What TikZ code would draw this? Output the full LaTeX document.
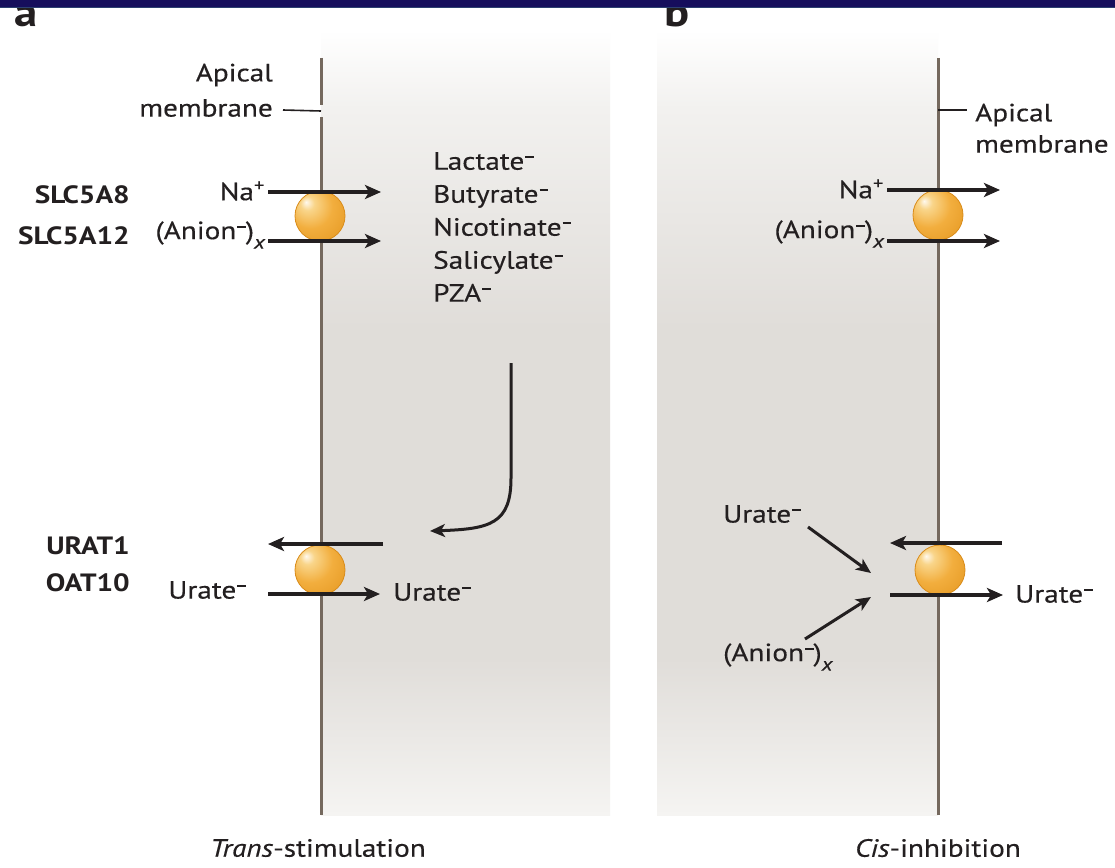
\documentclass[tikz,border=0pt]{standalone}
\usepackage{fontspec}
\setmainfont{PT Sans}[FakeStretch=1.17, UprightFeatures={FakeBold=0.35}, ItalicFeatures={FakeBold=0.35}]
\usetikzlibrary{arrows.meta}
\definecolor{ink}{HTML}{231F20}
\definecolor{memb}{HTML}{75695E}
\definecolor{navy}{HTML}{160E5C}
\definecolor{navyl}{HTML}{2C4070}
\definecolor{gtop}{HTML}{FFFFFF}
\definecolor{gup}{HTML}{F2F1EF}
\definecolor{gmid}{HTML}{E0DDD9}
\definecolor{gbot}{HTML}{F5F4F2}
\definecolor{orbw}{HTML}{FFF9EE}
\definecolor{orbl}{HTML}{F9D58A}
\definecolor{orbm}{HTML}{F2AE3E}
\definecolor{orbd}{HTML}{E3951E}
\definecolor{orbe}{HTML}{D98C1A}
\pgfdeclareradialshading{orb}{\pgfpoint{-14bp}{14bp}}{color(0bp)=(orbw); color(7bp)=(orbl); color(22bp)=(orbm); color(45bp)=(orbd); color(70bp)=(orbd)}
\pgfdeclareverticalshading{cellgrad}{100bp}{color(0bp)=(gbot); color(25bp)=(gbot); color(35bp)=(gmid); color(56bp)=(gmid); color(70bp)=(gup); color(75bp)=(gtop); color(100bp)=(gtop)}
\newcommand\smin{\kern0.04em\raisebox{0.46em}{\rule{0.34em}{0.08em}}}
\newcommand\ssub[1]{\raisebox{-0.38em}{\fontsize{19}{19}\selectfont\itshape #1}}
\tikzset{
  txt/.style={font=\fontsize{25}{33}\selectfont, text=ink, inner sep=0pt},
  btxt/.style={txt, font=\fontsize{25}{33}\selectfont\bfseries},
  membline/.style={draw=memb, line width=3pt},
  ticklab/.style={draw=ink, line width=1.6pt},
  arr/.style={draw=ink, line width=4pt, -{Stealth[length=16pt,width=14pt,inset=4pt]}},
  carr/.style={draw=ink, line width=3pt, -{Stealth[length=15pt,width=13pt,inset=4pt]}},
  darr/.style={draw=ink, line width=3pt, -{Stealth[length=15pt,width=13pt,inset=4pt]}},
  orbnode/.style={circle, minimum size=50pt, inner sep=0pt, shading=orb, draw=orbe, line width=0.8pt},
  panel/.style={shading=cellgrad, draw=none},
  letter/.style={font=\fontsize{40}{40}\selectfont\bfseries, text=ink, inner sep=0pt, anchor=base west}
}
\begin{document}
\begin{tikzpicture}[x=1pt,y=-1pt]
\useasboundingbox (0,0) rectangle (1115,867);
\fill[white] (0,0) rectangle (1115,867);
% grey panels
\shade[panel] (321,30) rectangle (610,815);
\shade[panel] (657,30) rectangle (938,815);
% panel letters (clipped by band)
\begin{scope}
\clip (0,8) rectangle (1115,60);
\node[letter] (la) at (14,27) {a};
\node[letter] (lb) at (664,27) {b};
\end{scope}
\fill[navy] (0,0) rectangle (1115,7);
\fill[navyl] (0,7) rectangle (1115,8.5);

% ---------------- panel a ----------------
\coordinate (mAt) at (321,58);
\coordinate (mAg1) at (321,105);
\coordinate (mAg2) at (321,117);
\coordinate (mAb) at (321,815);
\draw[membline] (mAt) -- (mAg1);
\draw[membline] (mAg2) -- (mAb);
\node[txt, anchor=east] (apA1) at (273,75) {Apical};
\node[txt, anchor=east] (apA2) at (273,108) {membrane};
\coordinate (tkA) at (321,111);
\draw[ticklab] (apA2.east) ++(10,2) coordinate (tkAs) -- (tkA);

\node[orbnode] (t1) at (320,216) {};
\coordinate (naAs) at (268,192);
\coordinate (naAe) at (381,192);
\coordinate (anAs) at (268,241);
\coordinate (anAe) at (381,241);
\draw[arr] (naAs) -- (naAe);
\draw[arr] (anAs) -- (anAe);
\node[txt, anchor=east] (naA) at (265,191) {Na\textsuperscript{+}};
\node[txt, anchor=east] (anA) at (265,235) {(Anion\smin)\ssub{x}};
\node[btxt, anchor=east] (slc1) at (130,195) {SLC5A8};
\node[btxt, anchor=east] (slc2) at (130,236) {SLC5A12};

\node[txt, anchor=north west, align=left] (subs) at (433,152) {Lactate\smin\\Butyrate\smin\\Nicotinate\smin\\Salicylate\smin\\PZA\smin};

\coordinate (cA1) at (511,363);
\coordinate (cA2) at (511,478);
\coordinate (cA3) at (430,531);
\draw[carr] (cA1) -- (cA2) .. controls (511,524) and (490,529) .. (cA3);

\node[orbnode] (t2) at (320,570) {};
\coordinate (urAls) at (383,544);
\coordinate (urAle) at (268,544);
\coordinate (urAs) at (268,594);
\coordinate (urAe) at (380,594);
\draw[arr] (urAls) -- (urAle);
\draw[arr] (urAs) -- (urAe);
\node[btxt, anchor=east] (urat) at (130,546) {URAT1};
\node[btxt, anchor=east] (oat) at (130,583) {OAT10};
\node[txt, anchor=east] (urA1) at (246,590) {Urate\smin};
\node[txt, anchor=west] (urA2) at (393,592) {Urate\smin};

\node[txt, anchor=center] (capA) at (318,848) {\textit{Trans}-stimulation};

% ---------------- panel b ----------------
\coordinate (mBt) at (938,58);
\coordinate (mBb) at (938,815);
\draw[membline] (mBt) -- (mBb);
\coordinate (tkB) at (938,110);
\coordinate (tkBe) at (967,110);
\draw[ticklab] (tkB) -- (tkBe);
\node[txt, anchor=west] (apB1) at (975,115) {Apical};
\node[txt, anchor=west] (apB2) at (975,144) {membrane};

\node[orbnode] (t3) at (938,215) {};
\coordinate (naBs) at (887,190);
\coordinate (naBe) at (1000,190);
\coordinate (anBs) at (887,241);
\coordinate (anBe) at (1000,241);
\draw[arr] (naBs) -- (naBe);
\draw[arr] (anBs) -- (anBe);
\node[txt, anchor=east] (naB) at (884,189) {Na\textsuperscript{+}};
\node[txt, anchor=east] (anB) at (884,234) {(Anion\smin)\ssub{x}};

\node[orbnode] (t4) at (940,570) {};
\coordinate (urBls) at (1002,543);
\coordinate (urBle) at (890,543);
\coordinate (urBs) at (890,595);
\coordinate (urBe) at (1003,595);
\draw[arr] (urBls) -- (urBle);
\draw[arr] (urBs) -- (urBe);
\node[txt, anchor=west] (urB2) at (1015,594) {Urate\smin};

\node[txt, anchor=west] (urB1) at (723,514) {Urate\smin};
\node[txt, anchor=west] (anB2) at (723,657) {(Anion\smin)\ssub{x}};
\coordinate (dB1s) at (808,527);
\coordinate (dB1e) at (871,573);
\coordinate (dB2s) at (805,639);
\coordinate (dB2e) at (871,597);
\draw[darr] (dB1s) -- (dB1e);
\draw[darr] (dB2s) -- (dB2e);

\node[txt, anchor=center] (capB) at (938,848) {\textit{Cis}-inhibition};
\end{tikzpicture}
\end{document}
